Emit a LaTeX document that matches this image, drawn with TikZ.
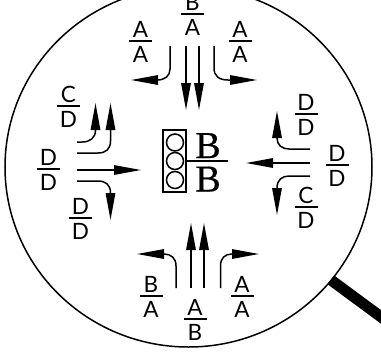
\documentclass[tikz,border=0pt]{standalone}
\usepackage{fontspec}
\setmainfont{Lato}
\newfontfamily\serifb[FakeBold=0.6]{Liberation Serif}
\usetikzlibrary{arrows.meta}
\tikzset{
  flow/.style={line width=1.5pt,-{Triangle[length=27pt,width=9.5pt]}},
  lens/.style={line width=1.5pt},
  handle/.style={line width=11pt},
  lamp/.style={draw,line width=1.5pt,circle,minimum size=17pt,inner sep=0pt},
  box/.style={draw,line width=1.5pt,minimum width=23pt,minimum height=62pt,inner sep=0pt},
  rulebar/.style={line width=1.5pt},
  lettr/.style={font=\fontsize{22.5}{22}\selectfont,anchor=base,inner sep=0pt},
  bigb/.style={font=\serifb\fontsize{38}{38}\selectfont,anchor=base,inner sep=0pt}
}
% name, x, y of the bar, upper letter, lower letter
\newcommand{\fracl}[5]{%
  \coordinate (#1l) at (#2-11.5,#3);
  \coordinate (#1r) at (#2+11.5,#3);
  \draw[rulebar] (#1l) -- (#1r);
  \node[lettr] (#1t) at (#2,#3-4) {#4};
  \node[lettr] (#1b) at (#2,#3+21) {#5};
}
\begin{document}
\begin{tikzpicture}[x=1pt,y=-1pt]
\useasboundingbox (0,0) rectangle (381,360);
\clip (0,0) rectangle (381,360);
\coordinate (hs) at (331,280);
\coordinate (he) at (392,325);
\draw[handle] (hs) -- (he);
\coordinate (cc) at (188.5,167);
\draw[lens] (cc) ellipse[x radius=183.5pt,y radius=180pt];
% signal
\node[box] (sig) at (174.5,161) {};
\node[lamp] (l1) at (175,142.5) {};
\node[lamp] (l2) at (175,161) {};
\node[lamp] (l3) at (175,180) {};
\coordinate (bl) at (187,161);
\coordinate (br) at (228,161);
\draw[rulebar] (bl) -- (br);
\node[bigb] (bt) at (208,158) {B};
\node[bigb] (bb) at (208,191.5) {B};
% labels
\fracl{ta}{140.5}{41}{A}{A}
\fracl{tb}{192.5}{14}{B}{A}
\fracl{tc}{240}{41}{A}{A}
\fracl{la}{68.5}{106}{C}{D}
\fracl{lb}{48.5}{169}{D}{D}
\fracl{lc}{80.5}{218}{D}{D}
\fracl{ra}{306}{114}{D}{D}
\fracl{rb}{337}{165}{D}{D}
\fracl{rc}{306}{207}{C}{D}
\fracl{ba}{151}{296}{B}{A}
\fracl{bb}{195}{319}{A}{B}
\fracl{bc}{242}{296}{A}{A}
% top arrows
\coordinate (t1s) at (170,46); \coordinate (t1e) at (131,80);
\coordinate (t2s) at (186,46); \coordinate (t2e) at (186,110);
\coordinate (t3s) at (199,46); \coordinate (t3e) at (199,110);
\coordinate (t4s) at (214,46); \coordinate (t4e) at (257,80);
\draw[flow] (t1s) -- (170,69) .. controls (170,76) and (165,80) .. (157,80) -- (t1e);
\draw[flow] (t2s) -- (t2e);
\draw[flow] (t3s) -- (t3e);
\draw[flow] (t4s) -- (214,68) .. controls (214,76) and (219,80) .. (228,80) -- (t4e);
% left arrows
\coordinate (l1s) at (77,142); \coordinate (l1e) at (95.5,103);
\coordinate (l2s) at (77,153); \coordinate (l2e) at (110.5,103);
\coordinate (l3s) at (77,170); \coordinate (l3e) at (141,170);
\coordinate (l4s) at (77,181); \coordinate (l4e) at (110.5,220);
\draw[flow] (l1s) -- (82,142) .. controls (90,142) and (95.5,138) .. (95.5,130) -- (l1e);
\draw[flow] (l2s) -- (98,153) .. controls (106,153) and (110.5,149) .. (110.5,141) -- (l2e);
\draw[flow] (l3s) -- (l3e);
\draw[flow] (l4s) -- (98,181) .. controls (106,181) and (110.5,185) .. (110.5,193) -- (l4e);
% right arrows
\coordinate (r1s) at (310,149); \coordinate (r1e) at (277,111);
\coordinate (r2s) at (310,163); \coordinate (r2e) at (246,163);
\coordinate (r3s) at (310,176); \coordinate (r3e) at (277,215);
\draw[flow] (r1s) -- (289,149) .. controls (282,149) and (277,145) .. (277,138) -- (r1e);
\draw[flow] (r2s) -- (r2e);
\draw[flow] (r3s) -- (289,176) .. controls (282,176) and (277,180) .. (277,188) -- (r3e);
% bottom arrows
\coordinate (b1s) at (176,288); \coordinate (b1e) at (137,254);
\coordinate (b2s) at (191,288); \coordinate (b2e) at (191,223);
\coordinate (b3s) at (204,288); \coordinate (b3e) at (204,223);
\coordinate (b4s) at (220.5,288); \coordinate (b4e) at (259,254);
\draw[flow] (b1s) -- (176,266) .. controls (176,258) and (171,254) .. (164,254) -- (b1e);
\draw[flow] (b2s) -- (b2e);
\draw[flow] (b3s) -- (b3e);
\draw[flow] (b4s) -- (220.5,266) .. controls (220.5,258) and (225,254) .. (232,254) -- (b4e);
\end{tikzpicture}
\end{document}
